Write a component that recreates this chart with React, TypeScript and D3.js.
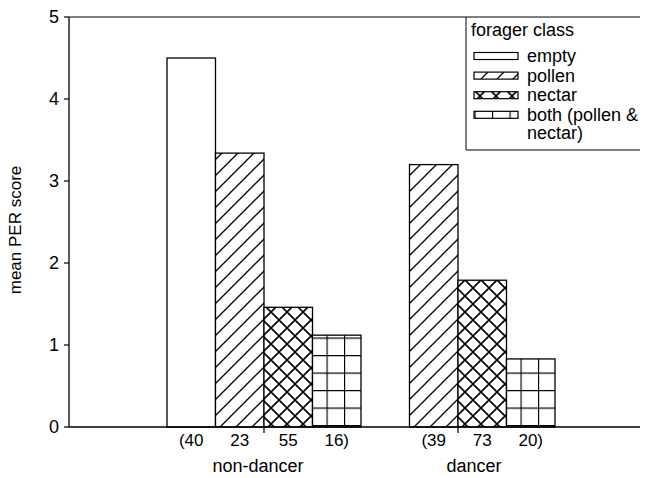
import React from "react";
import * as d3 from "d3";

// forager classes and the two groups
const groups = ["non-dancer", "dancer"];
const classes = ["empty", "pollen", "nectar", "both"];
const legendLines = [["empty"], ["pollen"], ["nectar"], ["both (pollen &", "nectar)"]];

// mean PER score per class (null = no bar)
const nonDancerScores = [4.5, 3.34, 1.46, 1.12];
const dancerScores = [null, 3.2, 1.79, 0.83];

// sample sizes printed under the bars
const nonDancerN = ["(40", "23", "55", "16)"];
const dancerN = [null, "(39", "73", "20)"];

const yTicks = [0, 1, 2, 3, 4, 5];

const W = 650;
const H = 478;
const left = 69;
const right = 640;
const top = 17;
const bottom = 427;
const font = "'Liberation Sans', Arial, Helvetica, sans-serif";

const fills: Record<string, string> = {
  empty: "#fff",
  pollen: "url(#hatchPollen)",
  nectar: "url(#hatchNectar)",
  both: "url(#hatchBoth)",
};

const App = () => {
  const y = d3.scaleLinear().domain([0, 5]).range([bottom, top]);
  const x0 = d3.scaleBand().domain(groups).range([167, 555]);
  const x1 = d3.scaleBand().domain(classes).range([0, x0.bandwidth()]);

  const scores = [nonDancerScores, dancerScores];
  const counts = [nonDancerN, dancerN];

  return (
    <svg width={W} height={H} style={{ position: "absolute", left: 0, top: 0, background: "#fff" }}>
      <defs>
        <pattern id="hatchPollen" patternUnits="userSpaceOnUse" width={16} height={16}>
          <rect width={16} height={16} fill="#fff" />
          <path d="M0,16 L16,0 M-4,4 L4,-4 M12,20 L20,12" stroke="#000" strokeWidth={1.3} />
        </pattern>
        <pattern id="hatchNectar" patternUnits="userSpaceOnUse" width={16} height={16}>
          <rect width={16} height={16} fill="#fff" />
          <path d="M0,16 L16,0 M-4,4 L4,-4 M12,20 L20,12 M0,0 L16,16 M-4,12 L4,20 M12,-4 L20,4" stroke="#000" strokeWidth={1.6} />
        </pattern>
        <pattern id="hatchBoth" patternUnits="userSpaceOnUse" width={17.5} height={17.5} x={2} y={5}>
          <rect width={17.5} height={17.5} fill="#fff" />
          <path d="M0.5,0 V17.5 M0,0.5 H17.5" stroke="#000" strokeWidth={1.3} />
        </pattern>
      </defs>

      {/* frame: top line, y axis, x axis */}
      <line x1={left} x2={right} y1={top} y2={top} stroke="#000" strokeWidth={1} />
      <line x1={left} x2={left} y1={top} y2={bottom} stroke="#000" strokeWidth={1.3} />

      {/* bars */}
      {groups.map((g, gi) => (
        <g key={g} transform={`translate(${x0(g)},0)`}>
          {classes.map((c, ci) => {
            const v = scores[gi][ci];
            if (v == null) return null;
            return (
              <rect
                key={c}
                x={x1(c)}
                y={y(v)}
                width={x1.bandwidth()}
                height={y(0) - y(v)}
                fill={fills[c]}
                stroke="#000"
                strokeWidth={1.3}
              />
            );
          })}
          {classes.map((c, ci) => {
            const n = counts[gi][ci];
            if (n == null) return null;
            return (
              <text key={c} x={(x1(c) as number) + x1.bandwidth() / 2} y={446}
                textAnchor="middle" fontFamily={font} fontSize={17}>
                {n}
              </text>
            );
          })}
          <line x1={x0.bandwidth() / 2} x2={x0.bandwidth() / 2} y1={bottom} y2={bottom + 6} stroke="#000" strokeWidth={1.2} />
          <text x={x0.bandwidth() / 2 + (gi === 0 ? -6 : 16)} y={472} textAnchor="middle" fontFamily={font} fontSize={18}>
            {g}
          </text>
        </g>
      ))}

      <line x1={left} x2={right} y1={bottom} y2={bottom} stroke="#000" strokeWidth={1.3} />

      {/* y axis ticks */}
      {yTicks.map((t) => (
        <g key={t} transform={`translate(0,${y(t)})`}>
          <line x1={left - 5} x2={left} stroke="#000" strokeWidth={1.2} />
          <text x={left - 10} dy="0.35em" textAnchor="end" fontFamily={font} fontSize={18}>
            {t}
          </text>
        </g>
      ))}
      <text transform={`translate(21,${(top + bottom) / 2 + 8}) rotate(-90)`} textAnchor="middle"
        fontFamily={font} fontSize={17}>
        mean PER score
      </text>

      {/* legend */}
      <g>
        <line x1={466} x2={466} y1={top} y2={150} stroke="#000" strokeWidth={1} />
        <line x1={466} x2={right} y1={150} y2={150} stroke="#000" strokeWidth={1} />
        <text x={471} y={36} fontFamily={font} fontSize={18}>forager class</text>
        {classes.map((c, i) => {
          const cy = 56 + i * 19.6;
          return (
            <g key={c}>
              <rect x={474} y={cy - 3.5} width={44} height={7} fill={fills[c]} stroke="#000" strokeWidth={1.2} />
              {legendLines[i].map((ln, li) => (
                <text key={li} x={527} y={cy + 6 + li * 18} fontFamily={font} fontSize={18}>
                  {ln}
                </text>
              ))}
            </g>
          );
        })}
      </g>
    </svg>
  );
};

export default App;
